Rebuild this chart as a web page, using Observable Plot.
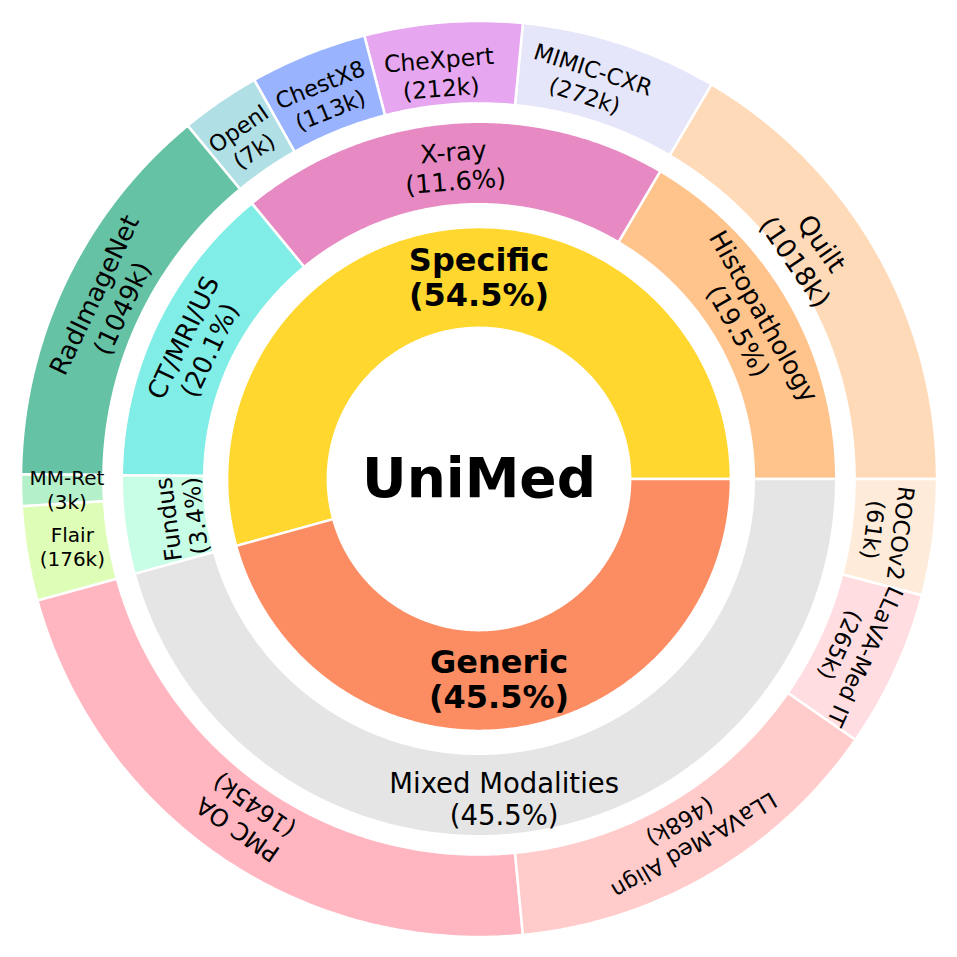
<!DOCTYPE html>
<html>
<head>
<meta charset="utf-8">
<script src="https://cdn.jsdelivr.net/npm/d3@7"></script>
<script src="https://cdn.jsdelivr.net/npm/@observablehq/plot@0.6"></script>
<style>
  html, body { margin: 0; padding: 0; background: #ffffff; overflow: hidden; }
  #chart svg { display: block; }
</style>
</head>
<body>
<div id="chart"></div>
<script>
// ---------------- DATA ----------------
// Inner ring (data type)
const innerNames = ["Specific", "Generic"];
const innerPct = ["54.5%", "45.5%"];
const innerColors = ["#ffd72f", "#fc8d62"];

// Middle ring (modality)
const middleNames = ["Histopathology", "X-ray", "CT/MRI/US", "Fundus", "Mixed Modalities"];
const middlePct = ["19.5%", "11.6%", "20.1%", "3.4%", "45.5%"];
const middleParent = ["Specific", "Specific", "Specific", "Specific", "Generic"];
const middleColors = ["#ffc38c", "#e78ac3", "#80ede6", "#c8fde6", "#e5e5e5"];

// Outer ring (datasets)
const outerNames = ["Quilt", "MIMIC-CXR", "CheXpert", "ChestX8", "OpenI", "RadImageNet",
  "MM-Ret", "Flair", "PMC OA", "LLaVA-Med Align", "LLaVA-Med IT", "ROCOv2"];
const outerCounts = ["1018k", "272k", "212k", "113k", "7k", "1049k",
  "3k", "176k", "1645k", "468k", "265k", "61k"];
const outerParent = ["Histopathology", "X-ray", "X-ray", "X-ray", "X-ray", "CT/MRI/US",
  "Fundus", "Fundus", "Mixed Modalities", "Mixed Modalities", "Mixed Modalities", "Mixed Modalities"];
// angular size of each wedge (degrees) as drawn in the picture
const outerDegrees = [59.5, 25.0, 20.0, 14.9, 10.1, 49.9, 4.0, 12.0, 80.1, 49.8, 20.0, 14.7];
const outerColors = ["#ffdab9", "#e6e6fa", "#e6a6f0", "#9ab3ff", "#b0dfe5", "#66c2a5",
  "#b4f0c9", "#defdb6", "#ffb6c1", "#ffcccb", "#ffdde1", "#ffebd9"];

const centerTitle = "UniMed";

// ---------------- LAYOUT ----------------
const W = 957, R = 458, C = 478.5;
const ring = {inner: [0.33, 0.55], middle: [0.60, 0.78], outer: [0.82, 1.0]};
const labelR = {inner: 0.44, middle: 0.685, outer: 0.9};

// hierarchy sums
const midSizeMap = d3.rollup(d3.range(outerNames.length), v => d3.sum(v, i => outerDegrees[i]), i => outerParent[i]);
const middleDegrees = middleNames.map(n => midSizeMap.get(n));
const innerSizeMap = d3.rollup(d3.range(middleNames.length), v => d3.sum(v, i => middleDegrees[i]), i => middleParent[i]);
const innerDegrees = innerNames.map(n => innerSizeMap.get(n));

function spans(sizes) {
  const total = d3.sum(sizes);
  let acc = 0;
  return sizes.map(s => {
    const a0 = acc / total * 360;
    acc += s;
    const a1 = acc / total * 360;
    return {a0, a1, mid: (a0 + a1) / 2};
  });
}

const rad = Math.PI / 180;
function wedge(id, a0, a1, r0, r1, fill) {
  const n = Math.max(2, Math.ceil((a1 - a0) / 0.4));
  const pts = [];
  for (let k = 0; k <= n; k++) {
    const a = (a0 + (a1 - a0) * k / n) * rad;
    pts.push({id, fill, x: r1 * Math.cos(a), y: r1 * Math.sin(a)});
  }
  for (let k = n; k >= 0; k--) {
    const a = (a0 + (a1 - a0) * k / n) * rad;
    pts.push({id, fill, x: r0 * Math.cos(a), y: r0 * Math.sin(a)});
  }
  return pts;
}

const innerSp = spans(innerDegrees);
const middleSp = spans(middleDegrees);
const outerSp = spans(outerDegrees);

const wedgeRows = [];
innerNames.forEach((n, i) => wedgeRows.push(...wedge("in-" + n, innerSp[i].a0, innerSp[i].a1, ...ring.inner, innerColors[i])));
middleNames.forEach((n, i) => wedgeRows.push(...wedge("mid-" + n, middleSp[i].a0, middleSp[i].a1, ...ring.middle, middleColors[i])));
outerNames.forEach((n, i) => wedgeRows.push(...wedge("out-" + n, outerSp[i].a0, outerSp[i].a1, ...ring.outer, outerColors[i])));

// label placement / size tweaks (style)
const upright = new Set(["MM-Ret", "Flair", "Mixed Modalities", "Specific", "Generic"]);
const tweak = {
  "Specific": {angle: 90},
  "Generic": {angle: 275.7},
  "Mixed Modalities": {angle: 274.5, r: 0.70, size: 27.5},
  "Quilt": {angle: 34.5, r: 0.875, rot: 55.5, size: 26.5},
  "MIMIC-CXR": {angle: 74.5},
  "CheXpert": {angle: 95.5, r: 0.89, size: 23.5},
  "RadImageNet": {size: 25.5},
  "PMC OA": {size: 24},
  "MM-Ret": {size: 20},
  "Flair": {size: 20},
  "Fundus": {r: 0.655, size: 23.5}
};

function norm(a) { a = ((a % 360) + 360) % 360; return a > 180 ? a - 360 : a; }

function labels(names, sub, sp, r, baseSize) {
  return names.map((n, i) => {
    const t = tweak[n] || {};
    const at = t.angle ?? sp[i].mid;
    const rr = t.r ?? r;
    return {
      text: n + "\n(" + sub[i] + ")",
      x: rr * Math.cos(at * rad),
      y: rr * Math.sin(at * rad),
      rotate: upright.has(n) ? 0 : (t.rot ?? norm(90 - sp[i].mid)),
      size: t.size ?? baseSize
    };
  });
}

const outerLabels = labels(outerNames, outerCounts, outerSp, labelR.outer, 22.5);
const middleLabels = labels(middleNames, middlePct, middleSp, labelR.middle, 25.5);
const innerLabels = labels(innerNames, innerPct, innerSp, labelR.inner, 32);

const plot = Plot.plot({
  width: W,
  height: W,
  margin: 0,
  x: {domain: [-C / R, (W - C) / R], axis: null},
  y: {domain: [-(W - C) / R, C / R], axis: null},
  color: {type: "identity"},
  style: {fontFamily: "'DejaVu Sans', sans-serif", background: "#ffffff"},
  marks: [
    Plot.line(wedgeRows, {x: "x", y: "y", z: "id", fill: "fill", stroke: "white", strokeWidth: 2.5, curve: "linear-closed"}),
    Plot.text(outerLabels, {x: "x", y: "y", text: "text", rotate: "rotate", fontSize: "size", fill: "black", lineHeight: 1.22, fontFamily: "DejaVu Sans"}),
    Plot.text(middleLabels, {x: "x", y: "y", text: "text", rotate: "rotate", fontSize: "size", fill: "black", lineHeight: 1.15, fontFamily: "DejaVu Sans"}),
    Plot.text(innerLabels, {x: "x", y: "y", text: "text", rotate: "rotate", fontSize: "size", fontWeight: "bold", fill: "black", lineHeight: 1.1, fontFamily: "DejaVu Sans"}),
    Plot.text([centerTitle], {x: () => 0, y: () => 0, text: d => d, fontSize: 55, fontWeight: "bold", fill: "black", fontFamily: "DejaVu Sans"})
  ]
});
document.getElementById("chart").appendChild(plot);
</script>
</body>
</html>
